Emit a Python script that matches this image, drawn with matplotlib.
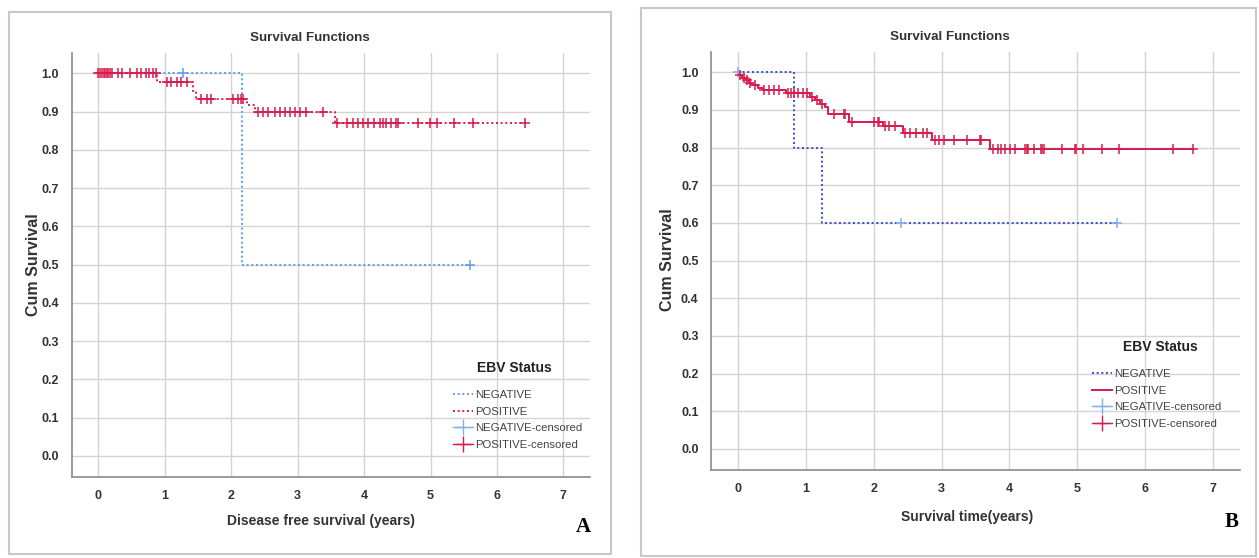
import numpy as np
import matplotlib
matplotlib.use("Agg")
import matplotlib.pyplot as plt
from matplotlib.lines import Line2D
from matplotlib.patches import Rectangle

plt.rcParams['font.family'] = ['Liberation Sans Narrow', 'Liberation Sans', 'DejaVu Sans']

# ---- data: panel A (disease free survival) ----
a_neg_t = [0, 2.17]
a_neg_s = [1.0, 0.5]
a_neg_end = 5.6
a_neg_cens = [1.27, 5.6]

a_pos_t = [0, 0.89, 1.42, 1.47, 2.24, 2.36, 3.56]
a_pos_s = [1.0, 0.977, 0.953, 0.934, 0.918, 0.899, 0.870]
a_pos_end = 6.45
a_pos_cens = [0.0, 0.02, 0.05, 0.08, 0.1, 0.13, 0.15, 0.18, 0.2, 0.3, 0.35, 0.48, 0.58, 0.65,
              0.72, 0.77, 0.82, 0.87,
              1.03, 1.1, 1.18, 1.25, 1.33,
              1.55, 1.63, 1.7, 2.03, 2.1, 2.15, 2.18,
              2.41, 2.48, 2.56, 2.66, 2.73, 2.81, 2.88, 2.96, 3.03, 3.13, 3.38,
              3.59, 3.74, 3.83, 3.91, 3.99, 4.06, 4.15, 4.24, 4.28, 4.33, 4.41, 4.48, 4.51,
              4.81, 4.99, 5.09, 5.36, 5.64, 6.42]

# ---- data: panel B (overall survival) ----
b_neg_t = [0, 0.83, 1.23]
b_neg_s = [1.0, 0.8, 0.6]
b_neg_end = 5.58
b_neg_cens = [0.0, 2.4, 5.58]

b_pos_t = [0, 0.02, 0.06, 0.11, 0.16, 0.21, 0.30, 0.36, 0.71, 1.06, 1.13, 1.21, 1.28,
           1.33, 1.63, 2.13, 2.43, 2.86, 3.71]
b_pos_s = [1.0, 0.993, 0.986, 0.979, 0.972, 0.965, 0.958, 0.952, 0.944, 0.935, 0.926, 0.917,
           0.908, 0.888, 0.869, 0.856, 0.838, 0.820, 0.795]
b_pos_end = 6.71
b_pos_cens = [0.03, 0.08, 0.13, 0.18, 0.25, 0.38, 0.46, 0.53, 0.61,
              0.73, 0.78, 0.83, 0.88, 0.96, 1.01, 1.09, 1.17, 1.24,
              1.41, 1.56, 1.58, 1.68, 2.01, 2.06, 2.08, 2.16, 2.23, 2.31,
              2.46, 2.53, 2.63, 2.73, 2.78, 2.91, 2.96, 3.03, 3.18, 3.38, 3.56, 3.58,
              3.76, 3.83, 3.88, 3.93, 4.01, 4.08, 4.23, 4.26, 4.28, 4.36, 4.46, 4.48, 4.51,
              4.78, 4.96, 4.98, 5.08, 5.36, 5.61, 6.41, 6.71]

x_ticks = list(range(0, 8))
y_ticks = [round(v * 0.1, 1) for v in range(0, 11)]
group_labels = ['NEGATIVE', 'POSITIVE', 'NEGATIVE-censored', 'POSITIVE-censored']

RED = '#d81b4c'
LBLUE = '#5b9ef4'
DBLUE = '#3a50c4'
CBLUE = '#7fb0f0'
DOT = (0, (1, 1.4))
TXT = '#333333'

W, H = 1259, 558
fig = plt.figure(figsize=(W / 100, H / 100), dpi=100)


def px_axes(l, t, r, b):
    return fig.add_axes([l / W, 1 - b / H, (r - l) / W, (b - t) / H])


def surv_at(t, times, surv):
    i = np.searchsorted(times, t, side='right') - 1
    return np.asarray(surv)[i]


def draw_curve(ax, times, surv, end, cens, color, ls, ccolor):
    xs = list(times) + [end]
    ys = list(surv) + [surv[-1]]
    ax.step(xs, ys, where='post', color=color, lw=1.4, ls=ls, zorder=3)
    cy = surv_at(np.asarray(cens), times, surv)
    ax.plot(cens, cy, ls='none', marker='+', ms=6.5, mew=1.1, color=ccolor, zorder=4)


def style_axes(ax):
    ax.set_xlim(-0.4, 7.4)
    ax.set_ylim(-0.056, 1.053)
    ax.set_xticks(x_ticks)
    ax.set_yticks(y_ticks)
    ax.set_yticklabels([f'{v:.1f}' for v in y_ticks])
    ax.grid(True, color='#d4d4d4', lw=1.0)
    ax.set_axisbelow(True)
    for s in ['top', 'right']:
        ax.spines[s].set_visible(False)
    for s in ['left', 'bottom']:
        ax.spines[s].set_color('#8a8a8a')
        ax.spines[s].set_linewidth(1.2)
    ax.tick_params(length=0, pad=9, labelsize=9, colors=TXT)
    for lab in ax.get_xticklabels() + ax.get_yticklabels():
        lab.set_fontweight('bold')


def panel_frame(l, t, r, b):
    fig.patches.append(Rectangle((l / W, 1 - b / H), (r - l) / W, (b - t) / H,
                                 transform=fig.transFigure, fill=False,
                                 edgecolor='#c8c8c8', lw=1.5))


def add_legend(ax, handles, x_px, top_px, title_x, title_y):
    leg = ax.legend(handles, group_labels, frameon=False, loc='upper left',
                    bbox_to_anchor=(x_px / W, 1 - top_px / H),
                    bbox_transform=fig.transFigure, fontsize=8.2, handlelength=1.8,
                    handletextpad=0.2, labelspacing=0.6, borderpad=0)
    for t in leg.get_texts():
        t.set_color('#444444')
    fig.text(title_x / W, 1 - title_y / H, 'EBV Status', ha='center', va='center',
             fontsize=10, fontweight='bold', color='#222222')


# ---- panel A ----
panel_frame(9, 12, 611, 554)
axA = px_axes(71.7, 53, 590, 477.3)
style_axes(axA)
draw_curve(axA, a_neg_t, a_neg_s, a_neg_end, a_neg_cens, LBLUE, DOT, LBLUE)
draw_curve(axA, a_pos_t, a_pos_s, a_pos_end, a_pos_cens, RED, DOT, RED)
fig.text(310 / W, 1 - 38 / H, 'Survival Functions', ha='center', va='center',
         fontsize=9.6, fontweight='bold', color=TXT)
fig.text(33 / W, 1 - 265 / H, 'Cum Survival', rotation=90, ha='center', va='center',
         fontsize=11.5, fontweight='bold', color=TXT)
fig.text(321 / W, 1 - 521 / H, 'Disease free survival (years)', ha='center', va='center',
         fontsize=10, fontweight='bold', color=TXT)
fig.text(583 / W, 1 - 527 / H, 'A', ha='center', va='center', fontsize=15,
         fontweight='bold', family='Liberation Serif')

hA = [Line2D([], [], color=LBLUE, ls=DOT, lw=1.4),
      Line2D([], [], color=RED, ls=DOT, lw=1.4),
      Line2D([], [], color=CBLUE, marker='+', ms=11, mew=1.0, lw=1.0),
      Line2D([], [], color=RED, marker='+', ms=11, mew=1.0, lw=1.0)]
add_legend(axA, hA, 447, 384, 514, 368)

# ---- panel B ----
panel_frame(641, 8, 1256, 556)
axB = px_axes(711, 52.3, 1240, 470)
style_axes(axB)
draw_curve(axB, b_neg_t, b_neg_s, b_neg_end, b_neg_cens, DBLUE, DOT, CBLUE)
draw_curve(axB, b_pos_t, b_pos_s, b_pos_end, b_pos_cens, RED, '-', RED)
fig.text(950 / W, 1 - 37 / H, 'Survival Functions', ha='center', va='center',
         fontsize=9.6, fontweight='bold', color=TXT)
fig.text(668 / W, 1 - 260 / H, 'Cum Survival', rotation=90, ha='center', va='center',
         fontsize=11.5, fontweight='bold', color=TXT)
fig.text(967 / W, 1 - 517 / H, 'Survival time(years)', ha='center', va='center',
         fontsize=10, fontweight='bold', color=TXT)
fig.text(1232 / W, 1 - 522 / H, 'B', ha='center', va='center', fontsize=15,
         fontweight='bold', family='Liberation Serif')

hB = [Line2D([], [], color=DBLUE, ls=DOT, lw=1.4),
      Line2D([], [], color=RED, ls='-', lw=1.4),
      Line2D([], [], color=CBLUE, marker='+', ms=11, mew=1.0, lw=1.0),
      Line2D([], [], color=RED, marker='+', ms=11, mew=1.0, lw=1.0)]
add_legend(axB, hB, 1086, 363, 1160, 347)

fig.savefig('out.png', dpi=100)
